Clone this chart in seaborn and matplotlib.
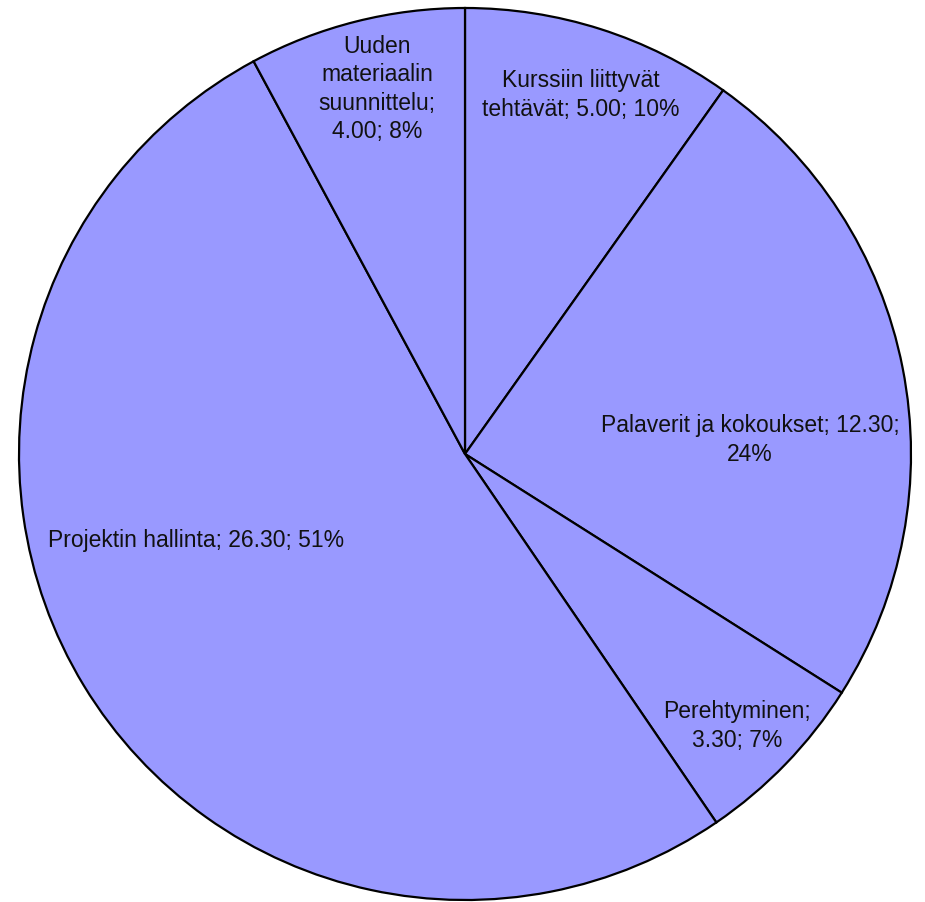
import textwrap
import matplotlib
matplotlib.use("Agg")
import matplotlib.pyplot as plt
import seaborn as sns

# data
names = ["Kurssiin liittyvät tehtävät", "Palaverit ja kokoukset", "Perehtyminen",
         "Projektin hallinta", "Uuden materiaalin suunnittelu"]
hours = [5.00, 12.30, 3.30, 26.30, 4.00]
pct_text = ["10%", "24%", "7%", "51%", "8%"]

# label layout (data units, pie radius = 1) and wrap widths
label_xy = [(0.260, 0.805), (0.639, 0.031), (0.610, -0.610), (-0.603, -0.195), (-0.197, 0.818)]
wrap_w = [19, 30, 13, 40, 12]

sns.set_theme(style="white")
plt.rcParams['font.family'] = ['Liberation Sans', 'DejaVu Sans']

fig = plt.figure(figsize=(9.25, 9.02), dpi=100)
ax = fig.add_axes([0, 0, 1, 1])

ax.pie(hours, startangle=90, counterclock=False, colors=["#9999ff"] * len(hours),
       wedgeprops=dict(edgecolor="black", linewidth=1.6))

for i in range(len(names)):
    txt = "%s; %.2f; %s" % (names[i], hours[i], pct_text[i])
    txt = textwrap.fill(txt, wrap_w[i])
    ax.text(label_xy[i][0], label_xy[i][1], txt, ha="center", va="center",
            multialignment="center", fontsize=16.5, linespacing=1.3, color="#111111")

ax.set_xlim(-465 / 446, 460 / 446)
ax.set_ylim(-448 / 446, 454 / 446)
ax.set_aspect("auto")
ax.axis("off")

fig.savefig("out.png", dpi=100, facecolor="white")
